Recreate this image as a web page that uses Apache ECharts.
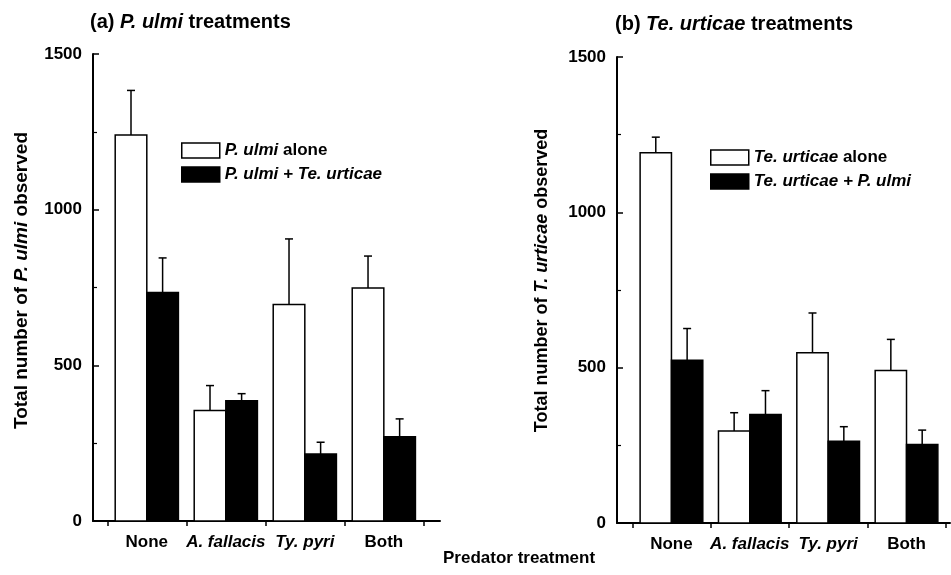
<!DOCTYPE html>
<html>
<head>
<meta charset="utf-8">
<script src="https://cdn.jsdelivr.net/npm/echarts@6/dist/echarts.min.js"></script>
<style>
  html, body { margin: 0; padding: 0; background: #fff; }
  #chart { width: 951px; height: 575px; }
</style>
</head>
<body>
<div id="chart"></div>
<script>
  // categories on the x axis (predator treatment)
  const categories = ['None', 'A. fallacis', 'Ty. pyri', 'Both'];
  const italicCats = ['A. fallacis', 'Ty. pyri'];
  const yTicks = [0, 500, 1000, 1500];

  // (a) P. ulmi treatments
  const pUlmiAlone = [1240, 355, 695, 748];
  const pUlmiAloneErr = [143, 80, 211, 103];
  const pUlmiMixed = [734, 386, 215, 271];
  const pUlmiMixedErr = [111, 23, 38, 57];

  // (b) Te. urticae treatments
  const teAlone = [1192, 296, 548, 491];
  const teAloneErr = [50, 59, 128, 100];
  const teMixed = [524, 349, 263, 253];
  const teMixedErr = [102, 77, 47, 46];

  const legendNames = ['P. ulmi alone', 'P. ulmi + Te. urticae', 'Te. urticae alone', 'Te. urticae + P. ulmi'];
  const legendRich = {
    'P. ulmi alone': '{i|P. ulmi} alone',
    'P. ulmi + Te. urticae': '{i|P. ulmi + Te. urticae}',
    'Te. urticae alone': '{i|Te. urticae} alone',
    'Te. urticae + P. ulmi': '{i|Te. urticae + P. ulmi}'
  };

  const FONT = "'Liberation Sans', Arial, Helvetica, sans-serif";

  function rich(size) {
    return { i: { fontStyle: 'italic', fontWeight: 'bold', fontSize: size, fontFamily: FONT, color: '#000' } };
  }

  function xAxisOf(idx, min, max) {
    return {
      type: 'value', gridIndex: idx, min: min, max: max,
      axisLine: { onZero: false, lineStyle: { color: '#000', width: 2 } },
      axisTick: { show: true, length: 5, lineStyle: { color: '#000', width: 1.5 }, customValues: [0, 1, 2, 3, 4] },
      splitLine: { show: false },
      axisLabel: {
        customValues: [0.5, 1.5, 2.5, 3.5],
        margin: 13,
        color: '#000', fontFamily: FONT, fontWeight: 'bold', fontSize: 17,
        formatter: function (v) {
          const c = categories[Math.floor(v)];
          return italicCats.indexOf(c) >= 0 ? '{i|' + c + '}' : c;
        },
        rich: rich(17)
      }
    };
  }

  function yAxisOf(idx, name, gap, pad, size) {
    return {
      type: 'value', gridIndex: idx, min: yTicks[0], max: yTicks[yTicks.length - 1], interval: 500,
      name: name, nameLocation: 'middle', nameRotate: 90, nameGap: gap,
      nameTextStyle: { color: '#000', fontFamily: FONT, fontWeight: 'bold', fontSize: size, padding: [0, 0, 0, pad], rich: rich(size) },
      axisLine: { show: true, onZero: false, lineStyle: { color: '#000', width: 2 } },
      axisTick: { show: true, inside: true, length: 6, lineStyle: { color: '#000', width: 1.5 } },
      minorTick: { show: true, splitNumber: 2, length: 4, lineStyle: { color: '#000', width: 1.2 } },
      splitLine: { show: false },
      axisLabel: { margin: 11, color: '#000', fontFamily: FONT, fontWeight: 'bold', fontSize: 17,
        formatter: function (v) { return String(v); } }
    };
  }

  // side -1 = left bar of the pair, +1 = right bar
  function barSeries(name, idx, vals, errs, color, side) {
    return {
      type: 'custom', name: name, xAxisIndex: idx, yAxisIndex: idx,
      itemStyle: { color: color },
      data: vals.map(function (v, i) { return [i + 0.5, v, errs[i]]; }),
      encode: { x: 0, y: 1 },
      renderItem: function (params, api) {
        const cx = api.value(0), v = api.value(1), e = api.value(2);
        const band = api.size([1, 0])[0];
        const w = band * 0.4;
        const base = api.coord([cx, 0]);
        const top = api.coord([cx, v]);
        const errTop = api.coord([cx, v + e]);
        const x0 = side < 0 ? base[0] - w : base[0];
        const ex = x0 + w / 2;
        return {
          type: 'group',
          children: [
            { type: 'rect', shape: { x: x0, y: top[1], width: w, height: base[1] - top[1] },
              style: { fill: color, stroke: '#000', lineWidth: 1.5 } },
            { type: 'line', shape: { x1: ex, y1: top[1], x2: ex, y2: errTop[1] },
              style: { stroke: '#000', lineWidth: 1.5 } },
            { type: 'line', shape: { x1: ex - 4, y1: errTop[1], x2: ex + 4, y2: errTop[1] },
              style: { stroke: '#000', lineWidth: 1.5 } }
          ]
        };
      }
    };
  }

  function legendOf(left, top, names) {
    return {
      left: left, top: top, orient: 'vertical', padding: 0,
      itemWidth: 38, itemHeight: 15, itemGap: 7,
      selectedMode: false,
      data: [
        { name: names[0], icon: 'rect', itemStyle: { color: '#fff', borderColor: '#000', borderWidth: 1.5 } },
        { name: names[1], icon: 'rect', itemStyle: { color: '#000', borderColor: '#000', borderWidth: 1.5 } }
      ],
      formatter: function (n) { return legendRich[n]; },
      textStyle: { color: '#000', fontFamily: FONT, fontWeight: 'bold', fontSize: 17, rich: rich(17) }
    };
  }

  const chart = echarts.init(document.getElementById('chart'));
  chart.setOption({
    backgroundColor: '#fff',
    animation: false,
    title: [
      { text: '(a) {i|P. ulmi} treatments', left: 90, top: 12, padding: 0,
        textStyle: { color: '#000', fontFamily: FONT, fontWeight: 'bold', fontSize: 20, rich: rich(20) } },
      { text: '(b) {i|Te. urticae} treatments', left: 615, top: 14, padding: 0,
        textStyle: { color: '#000', fontFamily: FONT, fontWeight: 'bold', fontSize: 20, rich: rich(20) } },
      { text: 'Predator treatment', left: 443, top: 550, padding: 0,
        textStyle: { color: '#000', fontFamily: FONT, fontWeight: 'bold', fontSize: 17 } }
    ],
    legend: [
      legendOf(181, 142, legendNames.slice(0, 2)),
      legendOf(710, 149, legendNames.slice(2, 4))
    ],
    grid: [
      { left: 93, top: 54, width: 347, height: 467 },
      { left: 617, top: 57, width: 333, height: 466 }
    ],
    xAxis: [
      xAxisOf(0, -0.181, 4.211),
      xAxisOf(1, -0.195, 4.055)
    ],
    yAxis: [
      yAxisOf(0, 'Total number of {i|P. ulmi} observed', 62, 14, 19),
      yAxisOf(1, 'Total number of {i|T. urticae} observed', 66, 19, 18)
    ],
    series: [
      barSeries(legendNames[0], 0, pUlmiAlone, pUlmiAloneErr, '#fff', -1),
      barSeries(legendNames[1], 0, pUlmiMixed, pUlmiMixedErr, '#000', 1),
      barSeries(legendNames[2], 1, teAlone, teAloneErr, '#fff', -1),
      barSeries(legendNames[3], 1, teMixed, teMixedErr, '#000', 1)
    ]
  });
</script>
</body>
</html>
